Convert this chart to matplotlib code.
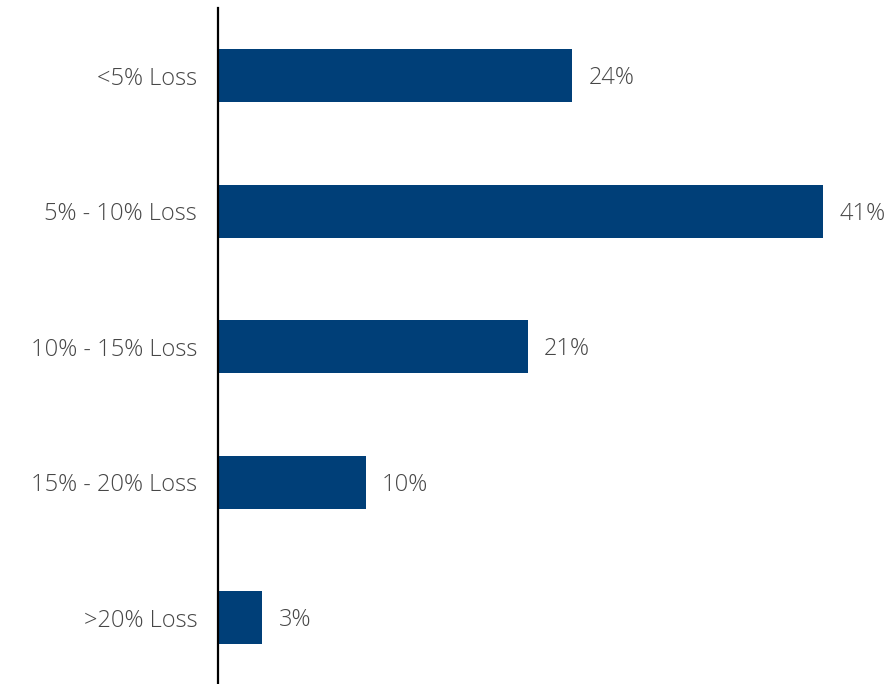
import matplotlib.pyplot as plt

# loss buckets and share of respondents (%)
categories = ['<5% Loss', '5% - 10% Loss', '10% - 15% Loss', '15% - 20% Loss', '>20% Loss']
shares = [24, 41, 21, 10, 3]

bar_color = '#003F78'
text_color = '#474747'

plt.rcParams['font.family'] = ['Open Sans', 'DejaVu Sans']

fig = plt.figure(figsize=(8.9, 6.84), dpi=100)
ax = fig.add_axes([218 / 890, 0, 1 - 218 / 890, 1 - 8 / 684])

pos = list(range(len(categories)))
ax.barh(pos, shares, height=0.39, color=bar_color)
for p, v in zip(pos, shares):
    ax.text(v + 1.1, p + 0.02, f'{v}%', va='center', ha='left', fontsize=17,
            color=text_color, fontweight='light')

ax.set_yticks(pos)
ax.set_yticklabels(categories, fontsize=17, color=text_color, fontweight='light')
ax.tick_params(axis='y', length=0, pad=15)
ax.set_xticks([])
ax.set_xlim(0, 45.54)
ax.set_ylim(4.49, -0.5)

for s in ['top', 'right', 'bottom']:
    ax.spines[s].set_visible(False)
ax.spines['left'].set_color('black')
ax.spines['left'].set_linewidth(1.6)

fig.savefig('out.png', dpi=100)
